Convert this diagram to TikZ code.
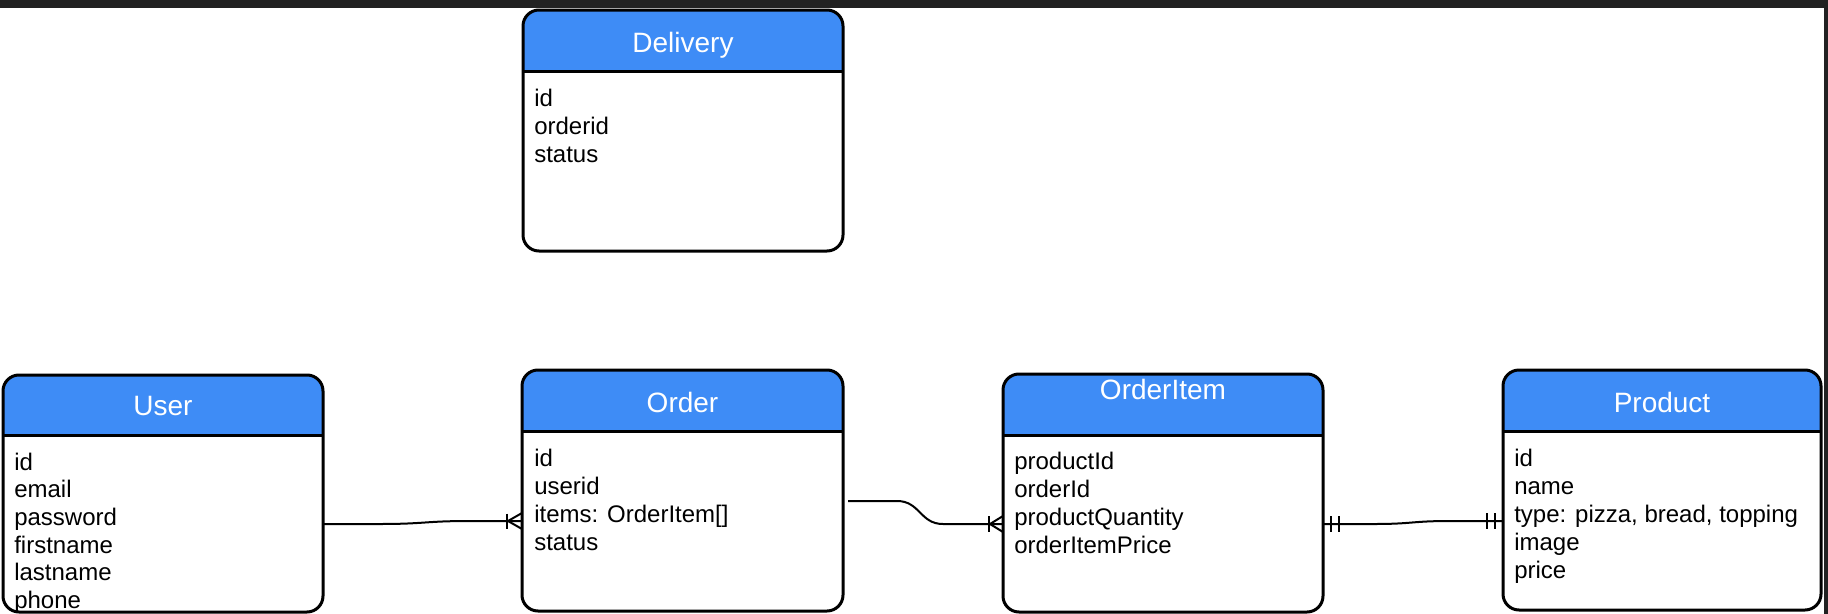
\documentclass[tikz,border=0pt]{standalone}
\usepackage{fontspec}
\setmainfont{Liberation Sans}
\usetikzlibrary{calc}
\definecolor{hdrblue}{RGB}{62,140,246}
\definecolor{barcol}{RGB}{34,34,34}
\tikzset{
  entbox/.style={draw=black, line width=2.25pt, rounded corners=12pt, inner sep=0pt, outer sep=0pt},
  sepline/.style={draw=black, line width=2.25pt},
  ttl/.style={text=white, font=\fontsize{21}{25}\selectfont, inner sep=0pt, anchor=base},
  fld/.style={text=black, font=\fontsize{18}{21}\selectfont, inner sep=0pt, anchor=base west},
  conn/.style={draw=black, line width=1.5pt},
  tickmk/.style={draw=black, line width=1.6pt},
}
% #1 name, #2 x1, #3 y1, #4 x2, #5 y2, #6 header bottom, #7 title, #8 title baseline
\newcommand\erent[8]{%
  \begin{scope}
    \clip[rounded corners=12pt] (#2,#3) rectangle (#4,#5);
    \fill[hdrblue] (#2,#3) rectangle (#4,#6);
  \end{scope}
  \draw[sepline] (#2,#6) -- (#4,#6);
  \node[entbox, anchor=north west, minimum width={(#4-#2)*0.75pt}, minimum height={(#5-#3)*0.75pt}] (#1) at (#2,#3) {};
  \node[ttl] (#1-t) at ({(#2+#4)/2},#8) {#7};
}
\begin{document}
\begin{tikzpicture}[x=0.75pt,y=-0.75pt]
\useasboundingbox (0,0) rectangle (1828,614);
\fill[barcol] (0,0) rectangle (1828,8);
\fill[barcol] (1824,0) rectangle (1828,614);

\erent{delivery}{523}{10}{843}{251}{71}{Delivery}{52}
\erent{user}{3}{375}{323}{612}{435}{User}{415}
\erent{order}{522}{370}{843}{611}{431}{Order}{412}
\erent{orderitem}{1003}{374}{1323}{612}{435}{OrderItem}{399}
\erent{product}{1503}{370}{1821}{610}{431}{Product}{412}

\foreach \t [count=\i] in {id,orderid,status}
  \node[fld] (delivery-f\i) at (534,{106+28*(\i-1)}) {\t};
\foreach \t [count=\i] in {id,email,password,firstname,lastname,phone}
  \node[fld] (user-f\i) at (14,{470+27.7*(\i-1)}) {\t};
\foreach \t [count=\i] in {id,userid,{items: OrderItem[]},status}
  \node[fld] (order-f\i) at (534,{466+28*(\i-1)}) {\t};
\foreach \t [count=\i] in {productId,orderId,productQuantity,orderItemPrice}
  \node[fld] (orderitem-f\i) at (1014,{469+28*(\i-1)}) {\t};
\foreach \t [count=\i] in {id,name,{type: pizza, bread, topping},image,price}
  \node[fld] (product-f\i) at (1514,{466+28*(\i-1)}) {\t};

% User -> Order (one or many at Order)
\draw[conn] (user.east |- 0,524) -- (380,524) .. controls (425,524) and (425,521) .. (470,521) -- (order.west |- 0,521);
\draw[tickmk] (507,513.5) -- (507,528.5);
\draw[conn] (508,521) -- (order.west |- 0,513);
\draw[conn] (508,521) -- (order.west |- 0,529);

% Order -> OrderItem (one or many at OrderItem)
\draw[conn] ($(order.east |- 0,501)+(5,0)$) -- (897,501) .. controls (920,501) and (920,524) .. (943,524) -- (orderitem.west |- 0,524);
\draw[tickmk] (989,516) -- (989,532);
\draw[conn] (990,524) -- (orderitem.west |- 0,516);
\draw[conn] (990,524) -- (orderitem.west |- 0,532);

% OrderItem -> Product (one and only one at both ends)
\draw[conn] (orderitem.east |- 0,524) -- (1375,524) .. controls (1412,524) and (1412,521) .. (1450,521) -- (product.west |- 0,521);
\draw[tickmk] (1331,516) -- (1331,532);
\draw[tickmk] (1339,516) -- (1339,532);
\draw[tickmk] (1487,513) -- (1487,529);
\draw[tickmk] (1495,513) -- (1495,529);
\end{tikzpicture}
\end{document}
